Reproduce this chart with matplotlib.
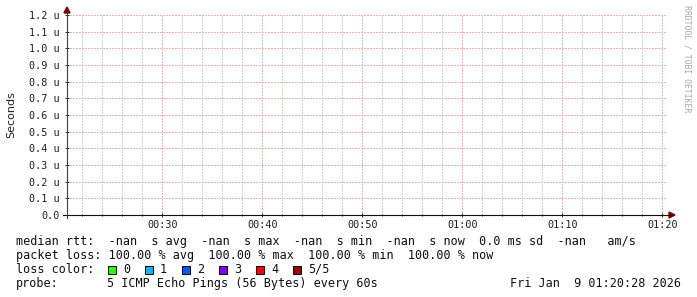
import datetime as dt
import matplotlib
matplotlib.use("Agg")
import matplotlib.pyplot as plt
import matplotlib.dates as mdates
from matplotlib.lines import Line2D
from matplotlib.patches import Polygon, Rectangle
from matplotlib.ticker import FuncFormatter, MultipleLocator

# --- data ---
t_start = dt.datetime(2026, 1, 9, 0, 20, 28)
t_end = dt.datetime(2026, 1, 9, 1, 20, 28)
y_max = 1.2e-6

rtt_line = "median rtt:  -nan  s avg  -nan  s max  -nan  s min  -nan  s now  0.0 ms sd  -nan   am/s"
loss_line = "packet loss: 100.00 % avg  100.00 % max  100.00 % min  100.00 % now"
loss_names = ["0", "1", "2", "3", "4", "5/5"]
loss_colors = ["#26ff00", "#00b8ff", "#0059ff", "#7e00ff", "#ff0000", "#a00000"]
probe_text = "5 ICMP Echo Pings (56 Bytes) every 60s"
stamp = "Fri Jan  9 01:20:28 2026"

W, H = 697, 297
MONO = "DejaVu Sans Mono"


def fx(px):
    return px / W


def fy(py):
    return 1 - py / H


fig = plt.figure(figsize=(W / 100, H / 100), dpi=100)
fig.patch.set_facecolor("white")

L, R, T, B = 67, 667, 15, 215
ax = fig.add_axes([fx(L), fy(B), fx(R) - fx(L), fy(T) - fy(B)])
ax.set_facecolor("white")
for s in ax.spines.values():
    s.set_visible(False)

ax.set_xlim(t_start, t_end)
ax.set_ylim(0, y_max)

ax.xaxis.set_major_locator(mdates.MinuteLocator(byminute=range(0, 60, 10)))
ax.xaxis.set_minor_locator(mdates.MinuteLocator(byminute=range(0, 60, 2)))
ax.xaxis.set_major_formatter(mdates.DateFormatter("%H:%M"))
ax.yaxis.set_major_locator(MultipleLocator(0.1e-6))


def yfmt(v, pos):
    if abs(v) < 1e-12:
        return "0.0"
    return f"{v * 1e6:.1f} u"


ax.yaxis.set_major_formatter(FuncFormatter(yfmt))

# rrdtool style dotted grid: 1px on, 1px off
dash = (0, (1.4, 1.4))
ax.grid(True, which="minor", axis="x", color="#d4d4d4", lw=0.72, linestyle=dash, antialiased=False)
ax.grid(True, which="major", axis="x", color="#f0b4b4", lw=0.72, linestyle=dash, antialiased=False)
ax.grid(True, which="major", axis="y", color="#f0b4b4", lw=0.72, linestyle=dash, antialiased=False)
ax.set_axisbelow(True)

ax.tick_params(axis="both", which="both", direction="inout", color="#303030", width=0.72)
ax.tick_params(axis="x", which="major", length=3, pad=2)
ax.tick_params(axis="x", which="minor", length=2)
ax.tick_params(axis="y", which="major", length=3, pad=4)
for lab in ax.get_xticklabels() + ax.get_yticklabels():
    lab.set_fontfamily(MONO)
    lab.set_fontsize(7.3)
    lab.set_color("#202020")

# axis lines with arrows
fig.add_artist(Line2D([fx(63), fx(670)], [fy(B), fy(B)], color="#101010", lw=0.8))
fig.add_artist(Line2D([fx(L), fx(L)], [fy(218), fy(12)], color="#404040", lw=0.8))
arrow_c = "#7f0000"
fig.add_artist(Polygon([[fx(669), fy(212)], [fx(675), fy(B)], [fx(669), fy(218)]],
                       closed=True, color=arrow_c, transform=fig.transFigure))
fig.add_artist(Polygon([[fx(64), fy(13)], [fx(L), fy(7)], [fx(70), fy(13)]],
                       closed=True, color=arrow_c, transform=fig.transFigure))

# y label and watermark
fig.text(fx(11), fy(115), "Seconds", rotation=90, ha="center", va="center",
         fontsize=8, family="DejaVu Sans", color="#202020")
fig.text(fx(687), fy(5), "RRDTOOL / TOBI OETIKER", rotation=270, ha="center", va="top",
         fontsize=5.9, family=MONO, color="#a8a8a8")

# legend rows
fs = 8.5
tc = "#101010"
fig.text(fx(16), fy(245), rtt_line, fontsize=fs, family=MONO, color=tc, va="baseline")
fig.text(fx(16), fy(259), loss_line, fontsize=fs, family=MONO, color=tc, va="baseline")

fig.text(fx(16), fy(273), "loss color:", fontsize=fs, family=MONO, color=tc, va="baseline")
for i, (name, col) in enumerate(zip(loss_names, loss_colors)):
    bx = 108 + i * 37
    fig.add_artist(Rectangle((fx(bx), fy(274)), fx(8), 8 / H, facecolor=col,
                             edgecolor="black", lw=0.7, transform=fig.transFigure))
    fig.text(fx(bx + 15), fy(273), name, fontsize=fs, family=MONO, color=tc, va="baseline")

fig.text(fx(16), fy(287), "probe:", fontsize=fs, family=MONO, color=tc, va="baseline")
fig.text(fx(107), fy(287), probe_text, fontsize=fs, family=MONO, color=tc, va="baseline")
fig.text(fx(510), fy(287), stamp, fontsize=fs, family=MONO, color=tc, va="baseline")

fig.savefig("out.png", dpi=100)
